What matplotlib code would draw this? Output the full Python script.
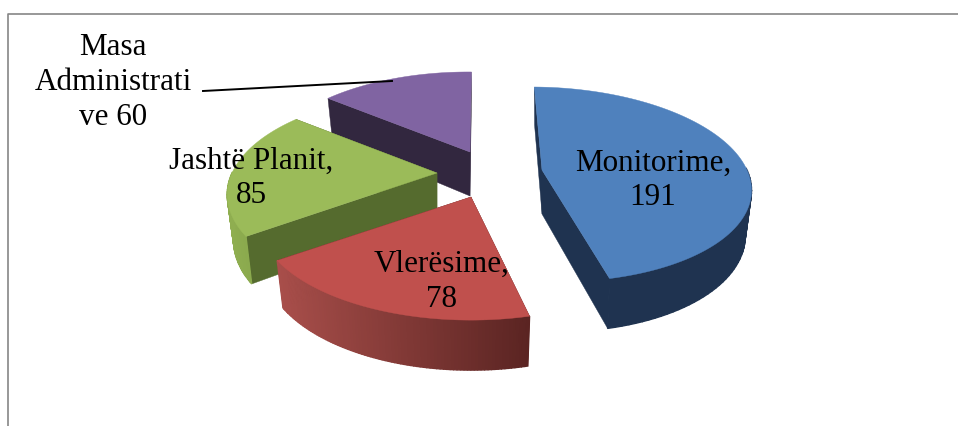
import numpy as np
import matplotlib
matplotlib.use("Agg")
import matplotlib.pyplot as plt
from matplotlib.colors import to_rgb

### data
labels = ["Monitorime,\n191", "Vlerësime,\n78", "Jashtë Planit,\n85", "Masa\nAdministrati\nve 60"]
values = [191, 78, 85, 60]

### style
top_clr = ["#4F81BD", "#C0504D", "#9BBB59", "#8064A2"]
side_clr = ["#1F3350", "#5A2422", "#556B2E", "#32273F"]
wall_left = ["#1F3350", "#A84E4A", "#8FAE50", "#32273F"]
wall_right = ["#1F3350", "#5A2422", "#7F9E48", "#32273F"]
apex = [(542, 170), (471, 197), (437, 173), (470, 152)]     # exploded slice tips, px
label_pos = [(653, 180.5), (442, 282), (251, 178.5), (113, 82.5)]
start_angle = 89
rx = [205.0, 208.0, 205.0, 205.0]                           # tilt of the disk, per slice
ry = [95.3, 97.0, 97.0, 97.0]
persp = [0.148, 0.212, 0.212, 0.212]
lean = [0.13, 0.0, 0.0, 0.02]
shrink = 0.97                                               # bottom of the disk is further away


def project(i, ang):
    u, v = np.cos(ang), np.sin(ang)
    w = 1 + persp[i] * v
    dy = -ry[i] * v / w
    return apex[i][0] + rx[i] * u / w + lean[i] * dy, apex[i][1] + dy, 44 - 6 * v


def mix(c1, c2, t):
    c1, c2 = np.array(to_rgb(c1)), np.array(to_rgb(c2))
    return tuple(c1 + (c2 - c1) * t)


def draw_slice(ax, i, a1, a2):
    tip = apex[i]
    ang = np.radians(np.linspace(a1, a2, 90))
    x, y, d = project(i, ang)
    xb = tip[0] + (x - tip[0]) * shrink
    # cut faces
    for j in (0, -1):
        ax.fill([tip[0], x[j], xb[j], tip[0]],
                [tip[1], y[j], y[j] + d[j], tip[1] + 44],
                color=side_clr[i], lw=0.3)
    # outer wall, shaded left to right, only the part that faces us
    xmin, xmax = x.min(), x.max()
    for j in range(len(x) - 1):
        if np.sin(ang[j]) > 0 and np.sin(ang[j + 1]) > 0:
            continue
        t = ((x[j] + x[j + 1]) / 2 - xmin) / (xmax - xmin)
        ax.fill([x[j], x[j + 1], xb[j + 1], xb[j]],
                [y[j], y[j + 1], y[j + 1] + d[j + 1], y[j] + d[j]],
                color=mix(wall_left[i], wall_right[i], t), lw=1.0)
    ax.fill(np.r_[tip[0], x], np.r_[tip[1], y], color=top_clr[i], lw=0.3)


fig = plt.figure(figsize=(9.58, 4.26), dpi=100)
ax = fig.add_axes([0, 0, 1, 1])
ax.set_xlim(0, 958)
ax.set_ylim(426, 0)
ax.axis("off")

# chart frame
ax.plot([8, 8, 958], [426, 14, 14], color="#868686", lw=1.2)

# slice angles, clockwise from the start
sweep = np.array(values) / sum(values) * 360
edges = start_angle - np.r_[0, np.cumsum(sweep)]

for i in [3, 2, 1, 0]:
    draw_slice(ax, i, edges[i], edges[i + 1])

# leader line of the small slice
ax.plot([203, 392], [91, 81], color="black", lw=1.4, zorder=4)

for lab, pos in zip(labels, label_pos):
    ax.text(pos[0], pos[1], lab, ha="center", va="center", family="Liberation Serif",
            fontsize=22.4, linespacing=1.27, color="black", zorder=5)

plt.savefig("out.png", dpi=100)
